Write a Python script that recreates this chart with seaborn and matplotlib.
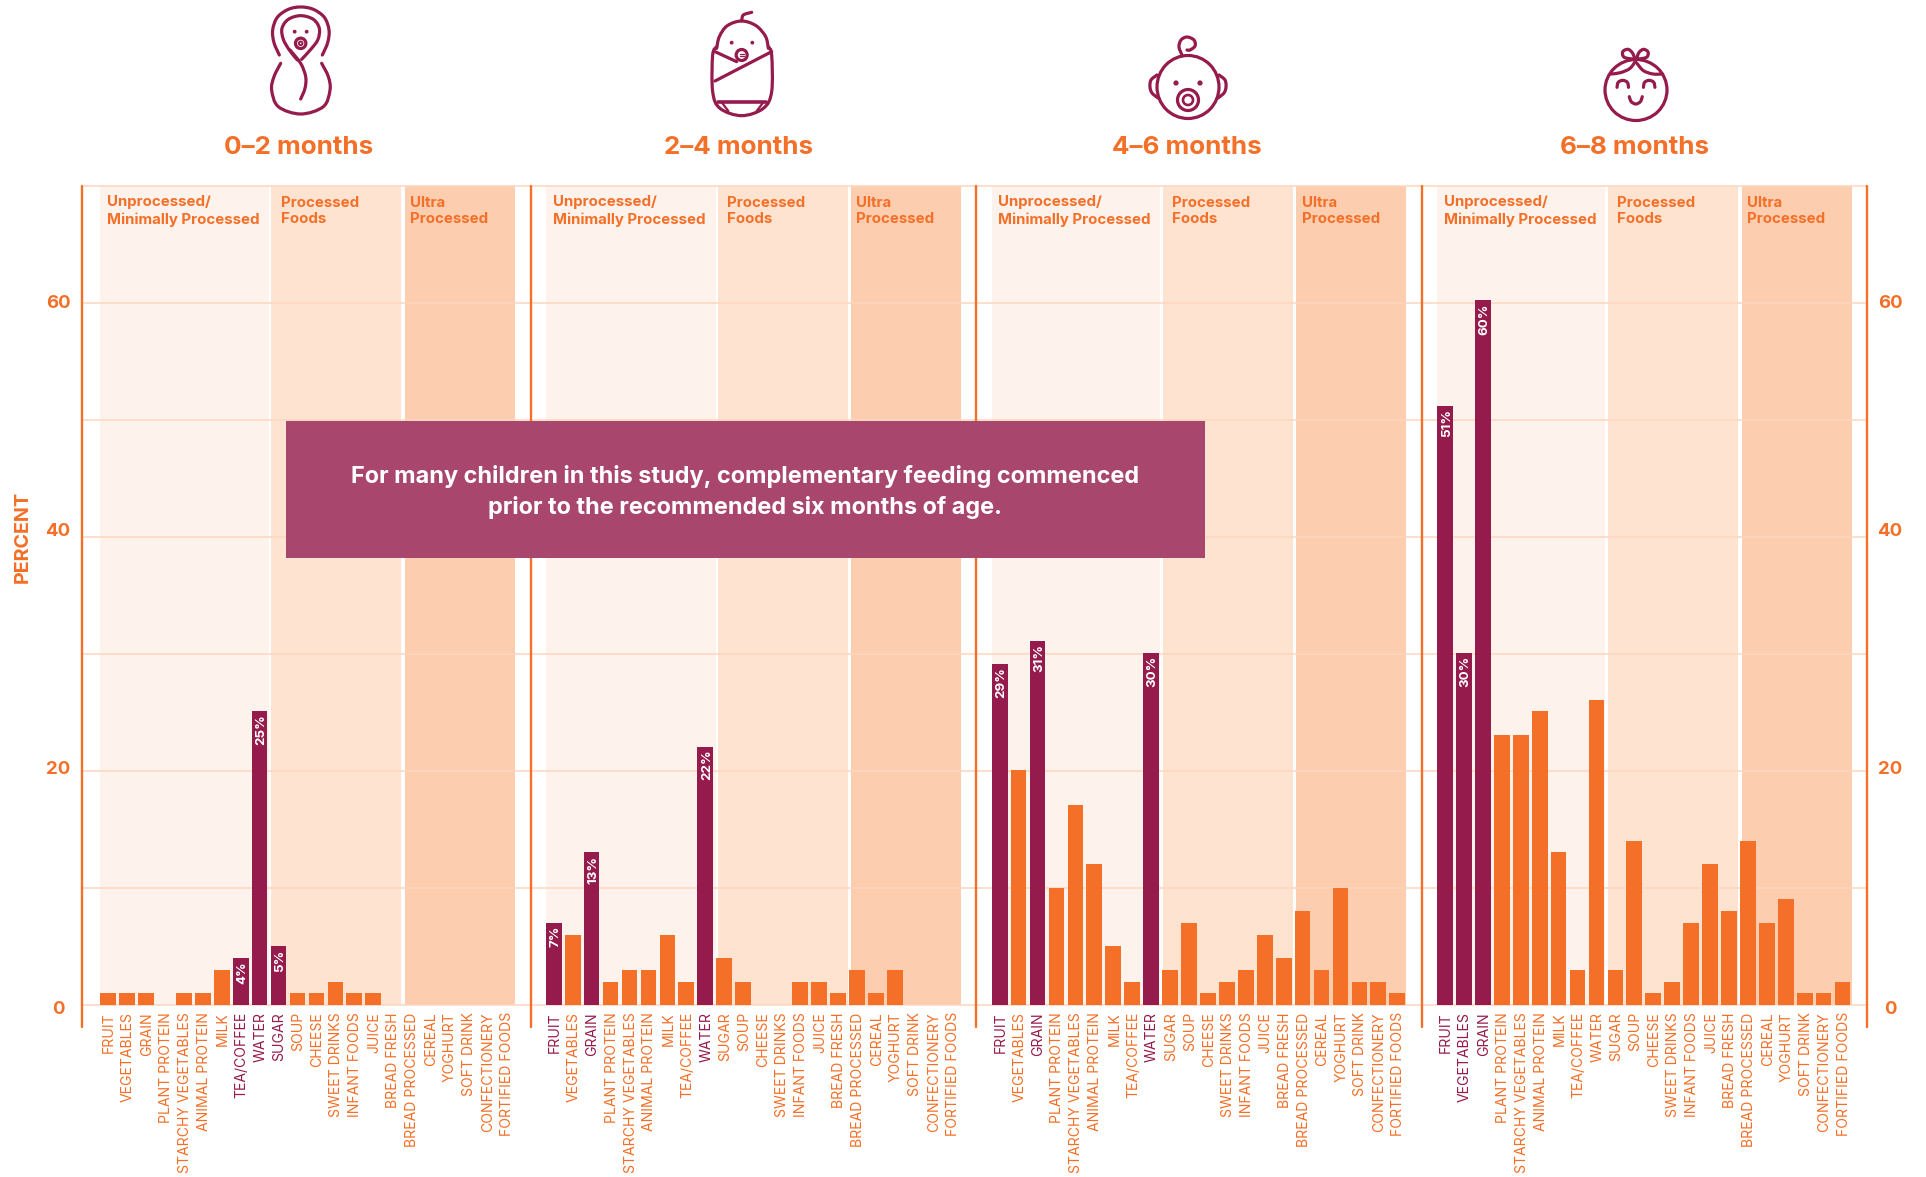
import matplotlib
matplotlib.use("Agg")
import matplotlib.pyplot as plt
from matplotlib.patches import Circle, Ellipse, Rectangle
from matplotlib.path import Path
from matplotlib.patches import PathPatch
from matplotlib.transforms import ScaledTranslation
import pandas as pd
import seaborn as sns

FOODS = ["FRUIT", "VEGETABLES", "GRAIN", "PLANT PROTEIN", "STARCHY VEGETABLES",
         "ANIMAL PROTEIN", "MILK", "TEA/COFFEE", "WATER", "SUGAR", "SOUP", "CHEESE",
         "SWEET DRINKS", "INFANT FOODS", "JUICE", "BREAD FRESH", "BREAD PROCESSED",
         "CEREAL", "YOGHURT", "SOFT DRINK", "CONFECTIONERY", "FORTIFIED FOODS"]

AGES = ["0–2 months", "2–4 months", "4–6 months", "6–8 months"]

VALUES_0_2 = [1, 1, 1, 0, 1, 1, 3, 4, 25, 5, 1, 1, 2, 1, 1, 0, 0, 0, 0, 0, 0, 0]
VALUES_2_4 = [7, 6, 13, 2, 3, 3, 6, 2, 22, 4, 2, 0, 0, 2, 2, 1, 3, 1, 3, 0, 0, 0]
VALUES_4_6 = [29, 20, 31, 10, 17, 12, 5, 2, 30, 3, 7, 1, 2, 3, 6, 4, 8, 3, 10, 2, 2, 1]
VALUES_6_8 = [51, 30, 60, 23, 23, 25, 13, 3, 26, 3, 14, 1, 2, 7, 12, 8, 14, 7, 9, 1, 1, 2]
ALL_VALUES = [VALUES_0_2, VALUES_2_4, VALUES_4_6, VALUES_6_8]

HIGHLIGHT = [
    ["TEA/COFFEE", "WATER", "SUGAR"],
    ["FRUIT", "GRAIN", "WATER"],
    ["FRUIT", "GRAIN", "WATER"],
    ["FRUIT", "VEGETABLES", "GRAIN"],
]

BAND_TITLES = ["Unprocessed/\nMinimally Processed", "Processed\nFoods", "Ultra\nProcessed"]
BAND_COLORS = ["#FEF2EC", "#FEE3D1", "#FDCDB0"]

ORANGE = "#F46F27"
PURPLE = "#951B4C"
GRID = "#FDD6BF"
FONT = "Inter"

W, H = 1926, 1177
TOP, BASE = 186, 1005
BAR_SCALE = 11.75  # bars run very slightly taller than the grid in the source

# pixel layout of the four panels
EDGES = [82, 531, 976, 1422, 1867]
FIRST_CENTER = [108, 553.7, 999.7, 1445]
STEPS = [18.95, 18.95, 18.93, 18.93]
BANDS = [
    [(100, 269), (271, 401), (405, 515)],
    [(546, 716), (718, 848), (851, 961)],
    [(992, 1160), (1163, 1293), (1296, 1406)],
    [(1437, 1605), (1608, 1738), (1742, 1852)],
]
BAND_TEXT_X = [(107, 281, 410), (553, 727, 856), (998, 1172, 1302), (1444, 1617, 1747)]
TITLE_X = [299, 739, 1187, 1635]


def draw_panel(fig, i):
    left, right = EDGES[i], EDGES[i + 1]
    c0 = FIRST_CENTER[i]
    step = STEPS[i]
    xlim = ((left - c0) / step, (right - c0) / step)

    # back layer: bands, grid, separators
    back = fig.add_axes([left / W, 1 - BASE / H, (right - left) / W, (BASE - TOP) / H])
    back.patch.set_visible(False)
    back.set_xlim(xlim)
    back.set_ylim(0, 70)
    for (a, b), color in zip(BANDS[i], BAND_COLORS):
        back.axvspan((a - c0) / step, (b - c0) / step, color=color, lw=0, zorder=0.2)
    back.set_yticks(range(0, 71, 10))
    back.set_yticklabels([])
    back.set_xticks([])
    back.set_axisbelow(True)
    back.yaxis.grid(True, color=GRID, lw=1.1, clip_on=False)
    back.xaxis.grid(False)
    back.tick_params(axis="y", length=0)
    sns.despine(ax=back, left=True, bottom=True)
    back.axvline(xlim[0], ymin=-0.0269, ymax=1, color=ORANGE, lw=1.7, clip_on=False, zorder=3)
    if i == 3:
        back.axvline(xlim[1], ymin=-0.0269, ymax=1, color=ORANGE, lw=1.7, clip_on=False, zorder=3)

    # front layer: the bars
    height = 70 * BAR_SCALE
    ax = fig.add_axes([left / W, 1 - BASE / H, (right - left) / W, height / H])
    ax.patch.set_visible(False)
    df = pd.DataFrame({"food": FOODS, "percent": ALL_VALUES[i]})
    df["flag"] = df["food"].isin(HIGHLIGHT[i])
    sns.barplot(data=df, x="food", y="percent", hue="flag", order=FOODS,
                palette={True: PURPLE, False: ORANGE}, hue_order=[True, False],
                dodge=False, width=0.83, saturation=1, legend=False, linewidth=0, ax=ax)
    ax.set_xlim(xlim)
    ax.set_ylim(0, 70)
    ax.set_yticks([])
    ax.grid(False)
    ax.tick_params(axis="x", length=0, pad=5.2)
    nudge = ScaledTranslation(1 / 100, 0, fig.dpi_scale_trans)
    for lab, food in zip(ax.get_xticklabels(), FOODS):
        lab.set_rotation(90)
        lab.set_fontsize(10.1)
        lab.set_family(FONT)
        lab.set_color(PURPLE if food in HIGHLIGHT[i] else ORANGE)
        lab.set_transform(lab.get_transform() + nudge)
    ax.set_xlabel("")
    ax.set_ylabel("")
    sns.despine(ax=ax, left=True, bottom=True)

    # value labels only on the purple bars
    for j, food in enumerate(FOODS):
        if food in HIGHLIGHT[i]:
            ax.annotate(f"{ALL_VALUES[i][j]}%", (j, ALL_VALUES[i][j]), xytext=(1.2, -2.4),
                        textcoords="offset points", rotation=90, ha="center", va="top",
                        color="white", fontsize=9.6, fontweight="bold", family=FONT)
    return ax


def smooth(ov, pts, ox=0, oy=0, sx=1 / 3, sy=1 / 3):
    # catmull-rom through the points, good enough for the little icons
    p = [(ox + x * sx, oy + y * sy) for x, y in pts]
    verts = [p[0]]
    codes = [Path.MOVETO]
    n = len(p)
    for k in range(n - 1):
        p0 = p[max(k - 1, 0)]
        p1 = p[k]
        p2 = p[k + 1]
        p3 = p[min(k + 2, n - 1)]
        verts.append((p1[0] + (p2[0] - p0[0]) / 6, p1[1] + (p2[1] - p0[1]) / 6))
        verts.append((p2[0] - (p3[0] - p1[0]) / 6, p2[1] - (p3[1] - p1[1]) / 6))
        verts.append(p2)
        codes += [Path.CURVE4, Path.CURVE4, Path.CURVE4]
    ov.add_patch(PathPatch(Path(verts, codes), fill=False, ec=PURPLE, lw=2.3, capstyle="round"))


def dot(ov, x, y, r=1.9):
    ov.add_patch(Circle((x, y), r, fc=PURPLE, ec="none"))


def ring(ov, x, y, r, lw=2.3):
    ov.add_patch(Circle((x, y), r, fill=False, ec=PURPLE, lw=lw))


def icon_swaddle(ov):
    o = {"ox": 260, "oy": 0}
    smooth(ov, [(58, 165), (42, 128), (38, 90), (52, 52), (85, 28), (122, 21), (160, 28),
                (193, 52), (207, 90), (203, 128), (187, 165)], **o)
    smooth(ov, [(112, 180), (88, 150), (70, 118), (66, 85), (85, 58), (122, 47), (160, 58),
                (178, 85), (174, 118), (155, 145), (125, 178)], **o)
    smooth(ov, [(90, 150), (122, 190), (137, 230), (135, 265), (122, 297)], **o)
    smooth(ov, [(62, 190), (42, 230), (35, 270), (55, 320), (122, 342), (190, 320), (210, 270),
                (205, 230), (185, 190)], **o)
    dot(ov, 260 + 104 / 3, 95 / 3)
    dot(ov, 260 + 140 / 3, 95 / 3)
    ring(ov, 260 + 122 / 3, 130 / 3, 5.2)
    ring(ov, 260 + 122 / 3, 130 / 3, 1.8, lw=1.4)


def icon_wrapped(ov):
    o = {"ox": 700, "oy": 5}
    smooth(ov, [(125, 48), (130, 30), (155, 22)], **o)
    smooth(ov, [(50, 130), (58, 95), (82, 62), (125, 48), (168, 62), (197, 95), (205, 130)], **o)
    smooth(ov, [(50, 125), (38, 150), (38, 260), (60, 310), (125, 332), (190, 310), (215, 260),
                (215, 150), (205, 125)], **o)
    ov.plot([700 + 45 / 3, 700 + 110 / 3], [5 + 140 / 3, 5 + 170 / 3], color=PURPLE, lw=2.3)
    ov.plot([700 + 215 / 3, 700 + 45 / 3], [5 + 140 / 3, 5 + 228 / 3], color=PURPLE, lw=2.3)
    ov.plot([700 + 55 / 3, 700 + 198 / 3], [5 + 290 / 3, 5 + 290 / 3], color=PURPLE, lw=2.6)
    ov.plot([700 + 65 / 3, 700 + 85 / 3], [5 + 292 / 3, 5 + 318 / 3], color=PURPLE, lw=1.6)
    ov.plot([700 + 190 / 3, 700 + 170 / 3], [5 + 292 / 3, 5 + 318 / 3], color=PURPLE, lw=1.6)
    dot(ov, 700 + 95 / 3, 5 + 113 / 3)
    dot(ov, 700 + 157 / 3, 5 + 113 / 3)
    ring(ov, 700 + 125 / 3, 5 + 150 / 3, 5.5)
    ov.plot([700 + 119 / 3, 700 + 131 / 3], [5 + 148 / 3, 5 + 148 / 3], color=PURPLE, lw=0.9)
    ov.plot([700 + 119 / 3, 700 + 131 / 3], [5 + 153 / 3, 5 + 153 / 3], color=PURPLE, lw=0.9)


def icon_face(ov):
    ov.add_patch(Ellipse((1188, 87), 62, 63, fill=False, ec=PURPLE, lw=2.3))
    smooth(ov, [(1157, 75), (1151, 80), (1150, 87), (1152, 93), (1158, 98)], sx=1, sy=1)
    smooth(ov, [(1219, 75), (1225, 80), (1226, 87), (1224, 93), (1218, 98)], sx=1, sy=1)
    dot(ov, 1176, 83, 2.6)
    dot(ov, 1200, 83, 2.6)
    ring(ov, 1188, 100, 10.5)
    ring(ov, 1188, 100, 5, lw=1.9)
    smooth(ov, [(1182, 55), (1179, 47), (1181, 40), (1187, 37), (1194, 40), (1195, 46), (1190, 50), (1187, 50)],
           sx=1, sy=1)


def icon_girl(ov):
    o = {"ox": 1100, "oy": 0, "sx": 1 / 2.613}
    ov.add_patch(Ellipse((1636, 90), 62, 61, fill=False, ec=PURPLE, lw=2.3))
    smooth(ov, [(1400, 182), (1385, 205), (1360, 218), (1335, 222)], **o)
    smooth(ov, [(1403, 190), (1420, 212), (1445, 222), (1470, 222)], **o)
    smooth(ov, [(1398, 178), (1370, 172), (1366, 155), (1380, 148), (1392, 160), (1398, 178)], **o)
    smooth(ov, [(1402, 178), (1408, 158), (1420, 148), (1432, 156), (1428, 172), (1402, 178)], **o)
    smooth(ov, [(1351, 262), (1354, 247), (1366, 241), (1378, 247), (1381, 262)], **o)
    smooth(ov, [(1420, 262), (1423, 247), (1435, 241), (1447, 247), (1450, 262)], **o)
    smooth(ov, [(1383, 290), (1388, 305), (1400, 312), (1412, 305), (1417, 290)], **o)


def main():
    sns.set_theme(style="white")
    plt.rcParams["font.family"] = [FONT, "DejaVu Sans"]

    fig = plt.figure(figsize=(W / 100, H / 100), dpi=100, facecolor="white")
    for i in range(4):
        draw_panel(fig, i)

    # overlay in pixel space for titles, axis numbers, the callout and icons
    ov = fig.add_axes([0, 0, 1, 1], zorder=10)
    ov.set_xlim(0, W)
    ov.set_ylim(H, 0)
    ov.axis("off")

    for x, age in zip(TITLE_X, AGES):
        ov.text(x, 147, age, color=ORANGE, fontsize=18.7, fontweight="bold", ha="center", va="center")

    for xs in BAND_TEXT_X:
        for x, t in zip(xs, BAND_TITLES):
            ov.text(x, 211, t, color=ORANGE, fontsize=10.8, fontweight="bold", ha="left", va="center",
                    linespacing=1.25)

    for y, t in zip([1009, 769, 532, 304], ["0", "20", "40", "60"]):
        ov.text(58, y, t, color=ORANGE, fontsize=13.4, fontweight="bold", ha="center", va="center")
        ov.text(1890, y, t, color=ORANGE, fontsize=13.4, fontweight="bold", ha="center", va="center")
    ov.text(23, 537, "PERCENT", color=ORANGE, fontsize=14.2, fontweight="bold", rotation=90,
            ha="center", va="center")

    ov.add_patch(Rectangle((286, 421), 919, 137, fc="#A9466D", ec="none"))
    ov.text(745, 492, "For many children in this study, complementary feeding commenced\n"
            "prior to the recommended six months of age.", color="white", fontsize=16.9,
            fontweight="bold", ha="center", va="center", linespacing=1.45)

    icon_swaddle(ov)
    icon_wrapped(ov)
    icon_face(ov)
    icon_girl(ov)

    fig.savefig("out.png", dpi=100, facecolor="white")


if __name__ == "__main__":
    main()
